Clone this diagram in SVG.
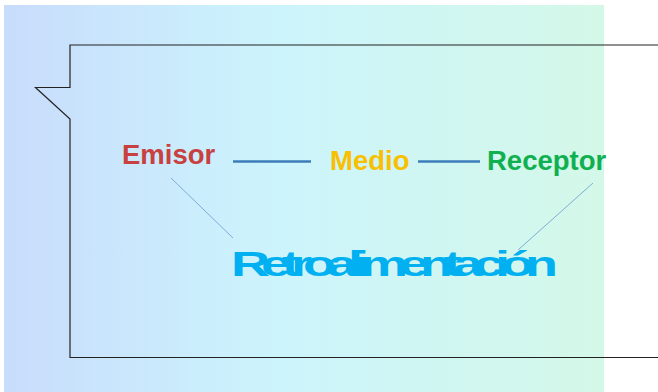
<svg xmlns="http://www.w3.org/2000/svg" width="658" height="392" viewBox="0 0 658 392">
<defs>
<linearGradient id="bg" x1="0" y1="0" x2="1" y2="0">
<stop offset="0" stop-color="#c8dcfc"/>
<stop offset="0.45" stop-color="#ccf4fc"/>
<stop offset="1" stop-color="#d4f8e8"/>
</linearGradient>
<style>
.lbl{font-family:"Liberation Sans",Arial,sans-serif;font-weight:bold;font-size:27.5px}
.conn{stroke:#3c7cb8;stroke-width:2.5;fill:none}
.thin{stroke:#6a9ad0;stroke-width:0.8;fill:none}
</style>
</defs>
<rect x="4" y="5" width="600" height="387" fill="url(#bg)"/>
<path d="M658 45 H70 V87.5 H35.5 L70 119 V357.5 H658" fill="none" stroke="#222" stroke-width="1.2"/>
<g id="connectors">
<line class="conn" x1="233" y1="161.5" x2="311" y2="161.5"/>
<line class="conn" x1="418" y1="161.5" x2="480" y2="161.5"/>
<line class="thin" x1="171" y1="178" x2="233" y2="238"/>
<line class="thin" x1="593" y1="183" x2="518" y2="250"/>
</g>
<g id="emisor"><text class="lbl" x="122" y="164" fill="#c84040">Emisor</text></g>
<g id="medio"><text class="lbl" x="330" y="170" fill="#f8c000">Medio</text></g>
<g id="receptor"><text class="lbl" x="487" y="170" fill="#10b050">Receptor</text></g>
<g id="retroalimentacion"><text transform="translate(231,276) scale(1.5,1)" x="0" y="0" font-family="Liberation Sans,Arial,sans-serif" font-weight="bold" font-size="36" letter-spacing="-6" fill="#00b0f0">Retroalimentación</text></g>
</svg>
